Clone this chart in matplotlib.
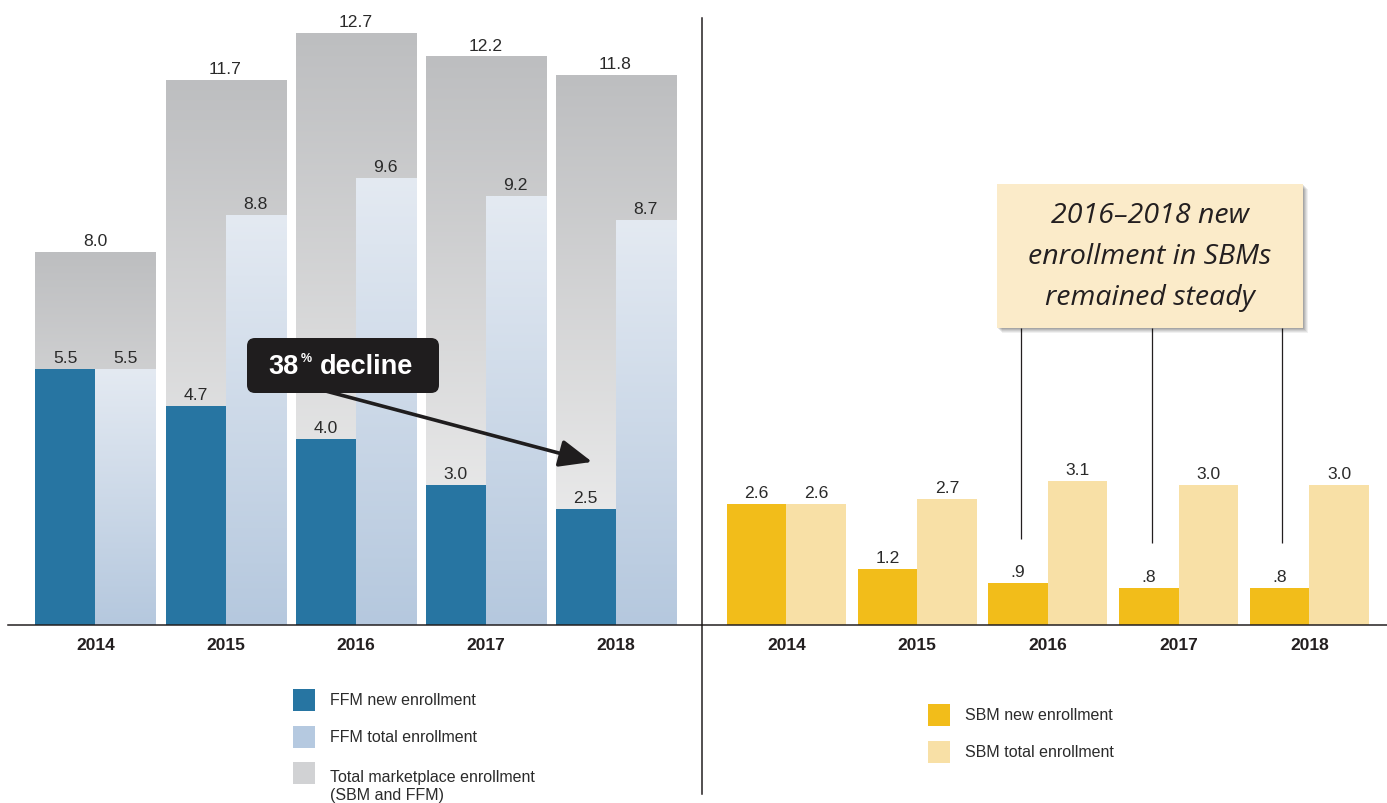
import matplotlib
matplotlib.use('Agg')
import matplotlib.pyplot as plt
import numpy as np
from matplotlib.patches import Rectangle, FancyBboxPatch
from matplotlib.colors import LinearSegmentedColormap
from matplotlib.lines import Line2D
from matplotlib.transforms import Affine2D

# ---------------- data ----------------
years = ['2014', '2015', '2016', '2017', '2018']
total_marketplace = [8.0, 11.7, 12.7, 12.2, 11.8]
ffm_new = [5.5, 4.7, 4.0, 3.0, 2.5]
ffm_total = [5.5, 8.8, 9.6, 9.2, 8.7]
sbm_new = [2.6, 1.2, 0.9, 0.8, 0.8]
sbm_total = [2.6, 2.7, 3.1, 3.0, 3.0]
legend_left = ['FFM new enrollment', 'FFM total enrollment',
               'Total marketplace enrollment\n(SBM and FFM)']
legend_right = ['SBM new enrollment', 'SBM total enrollment']
callout_left = ('38', '%', 'decline')
callout_right = ['2016\u20132018 new', 'enrollment in SBMs', 'remained steady']
steady_years = ['2016', '2017', '2018']

# ---------------- style ----------------
plt.rcParams['font.family'] = ['Liberation Sans', 'DejaVu Sans']
TXT = '#231f20'
DARK_BLUE = '#2775a2'
LB_TOP, LB_BOT = '#e4eaf2', '#b5c8de'
GR_TOP, GR_BOT = '#bdbec0', '#f4f4f4'
YEL = '#f2bd1a'
LYEL = '#f8e0a6'
LEG_GRAY = '#d1d2d4'
LEG_LB = '#b5c9e0'

W, H = 1387, 804
fig = plt.figure(figsize=(W / 100, H / 100), dpi=100)
pxT = Affine2D().scale(1 / W, -1 / H).translate(0, 1) + fig.transFigure

PXU = 46.6          # pixels per unit
BASE = 626          # baseline pixel row
ymax = BASE / PXU

axL = fig.add_axes([8 / W, (H - BASE) / H, 694 / W, BASE / H])
axR = fig.add_axes([702 / W, (H - BASE) / H, 685 / W, BASE / H])
for ax in (axL, axR):
    ax.set_axis_off()
    ax.patch.set_visible(False)


def fmt(v):
    s = f'{v:.1f}'
    return s[1:] if s.startswith('0') else s


def grad_bar(ax, x, h, w, c_top, c_bot, z):
    bar = ax.bar(x, h, w, color='none', edgecolor='none', zorder=z)[0]
    cmap = LinearSegmentedColormap.from_list('g', [c_bot, c_top])
    g = np.linspace(0, 1, 256).reshape(-1, 1)
    im = ax.imshow(g, extent=[x - w / 2, x + w / 2, 0, h], origin='lower',
                   cmap=cmap, aspect='auto', zorder=z, interpolation='bilinear')
    im.set_clip_path(bar)
    return bar


def vlabel(ax, x, v, z=10):
    ax.annotate(fmt(v), (x, v), xytext=(0, 5), textcoords='offset points',
                ha='center', va='baseline', fontsize=12.6, color='#2a2a2a', zorder=z)


# ---------------- left panel ----------------
xs = np.arange(len(years))
wg = 0.923
wh = wg / 2
for i in xs:
    grad_bar(axL, i, total_marketplace[i], wg, GR_TOP, GR_BOT, 1)
    grad_bar(axL, i + wh / 2, ffm_total[i], wh, LB_TOP, LB_BOT, 2)
axL.bar(xs - wh / 2, ffm_new, wh, color=DARK_BLUE, zorder=3)
for i in xs:
    vlabel(axL, i, total_marketplace[i])
    vlabel(axL, i - wh / 2, ffm_new[i])
    vlabel(axL, i + wh / 2, ffm_total[i])
    axL.annotate(years[i], (i, 0), xytext=(0, -14.4), textcoords='offset points',
                 ha='center', va='center', fontsize=12.5, fontweight='bold', color=TXT)
axL.set_xlim(-0.673, 4.665)
axL.set_ylim(0, ymax)
axL.axhline(0, color=TXT, lw=1.1, zorder=5, clip_on=False)

# ---------------- right panel ----------------
wr = 0.455
axR.bar(xs - wr / 2, sbm_new, wr, color=YEL, zorder=3)
axR.bar(xs + wr / 2, sbm_total, wr, color=LYEL, zorder=3)
for i in xs:
    vlabel(axR, i - wr / 2, sbm_new[i])
    vlabel(axR, i + wr / 2, sbm_total[i])
    axR.annotate(years[i], (i, 0), xytext=(0, -14.4), textcoords='offset points',
                 ha='center', va='center', fontsize=12.5, fontweight='bold', color=TXT)
axR.set_xlim(-0.646, 4.593)
axR.set_ylim(0, ymax)
axR.axhline(0, color=TXT, lw=1.1, zorder=5, clip_on=False)

# connector lines from callout to steady years
box_bottom = (BASE - 329) / PXU
for y in steady_years:
    i = years.index(y)
    axR.plot([i - wr / 2 + 0.02] * 2, [sbm_new[i] + 0.95, box_bottom],
             color=TXT, lw=0.9, zorder=4, solid_capstyle='butt')

# divider
fig.add_artist(Line2D([702, 702], [19, 795], transform=pxT, color=TXT, lw=1.1))

# ---------------- left callout ----------------
axL.annotate('', xy=(3.82, 3.50), xytext=(1.57, 5.17),
             arrowprops=dict(arrowstyle='-|>,head_length=1.0,head_width=0.42',
                             mutation_scale=20, lw=2.6, color='#1f1d1e',
                             shrinkA=0, shrinkB=0), zorder=6)
fig.add_artist(FancyBboxPatch((251, 343), 184, 47, transform=pxT,
                              boxstyle='round,pad=4,rounding_size=8',
                              fc='#1f1d1e', ec='none'))
fig.text(268, 367, callout_left[0], transform=pxT, ha='left', va='center',
         fontsize=19.5, fontweight='bold', color='white')
fig.text(301, 359, callout_left[1], transform=pxT, ha='left', va='center',
         fontsize=9, fontweight='bold', color='white')
fig.text(320, 367, callout_left[2], transform=pxT, ha='left', va='center',
         fontsize=19.5, fontweight='bold', color='white')

# ---------------- right callout ----------------
for k, a in zip((1, 2, 3, 4, 5), (0.10, 0.09, 0.08, 0.07, 0.06)):
    fig.add_artist(Rectangle((997 + k, 185 + k), 306, 144, transform=pxT,
                             fc='black', ec='none', alpha=a))
fig.add_artist(Rectangle((997, 185), 306, 144, transform=pxT,
                         fc='#fbebc9', ec='none'))
for j, line in enumerate(callout_right):
    fig.text(1150, 216 + 41 * j, line, transform=pxT, ha='center', va='center',
             fontsize=20.5, fontstyle='italic', fontweight='medium', color=TXT,
             family=['Open Sans', 'DejaVu Sans'])

# ---------------- legends ----------------
left_cols = [DARK_BLUE, LEG_LB, LEG_GRAY]
left_rows = [701, 738, 787]
left_sq = [690, 727, 763]
for lab, c, ty, sy in zip(legend_left, left_cols, left_rows, left_sq):
    fig.add_artist(Rectangle((293, sy), 22, 22, transform=pxT, fc=c, ec='none'))
    fig.text(330, ty, lab, transform=pxT, ha='left', va='center',
             fontsize=11.5, color='#2b2b2b', linespacing=1.25)

right_cols = [YEL, LYEL]
right_rows = [716, 753]
right_sq = [705, 742]
for lab, c, ty, sy in zip(legend_right, right_cols, right_rows, right_sq):
    fig.add_artist(Rectangle((928, sy), 22, 22, transform=pxT, fc=c, ec='none'))
    fig.text(965, ty, lab, transform=pxT, ha='left', va='center',
             fontsize=11.5, color='#2b2b2b')

fig.savefig('out.png', dpi=100, facecolor='white')
